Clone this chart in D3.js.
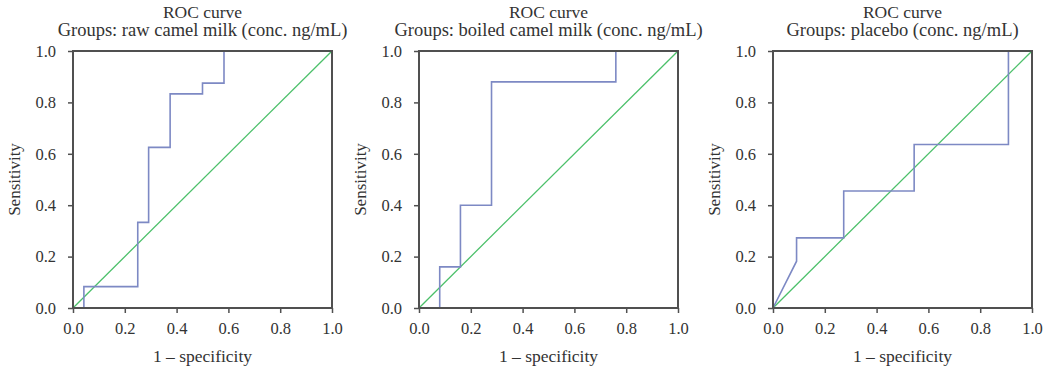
<!DOCTYPE html>
<html>
<head>
<meta charset="utf-8">
<script src="https://cdn.jsdelivr.net/npm/d3@7/dist/d3.min.js"></script>
<style>
  body { margin: 0; background: #fff; }
  text { font-family: "Liberation Serif", "Times New Roman", "DejaVu Serif", serif; fill: #333; }
</style>
</head>
<body>
<svg id="roc-chart" width="1050" height="374"></svg>
<script>
// tick labels shared by both axes
const ticks = [0, 0.2, 0.4, 0.6, 0.8, 1.0];

const groupNames = ["raw camel milk", "boiled camel milk", "placebo"];

// ROC points: 1 - specificity / sensitivity
const rawFpr = [0, 0.042, 0.042, 0.25, 0.25, 0.292, 0.292, 0.375, 0.375, 0.5, 0.5, 0.583, 0.583, 1];
const rawTpr = [0, 0, 0.083, 0.083, 0.333, 0.333, 0.625, 0.625, 0.833, 0.833, 0.875, 0.875, 1, 1];

const boiledFpr = [0, 0.08, 0.08, 0.16, 0.16, 0.28, 0.28, 0.76, 0.76, 1];
const boiledTpr = [0, 0, 0.16, 0.16, 0.4, 0.4, 0.88, 0.88, 1, 1];

const placeboFpr = [0, 0.091, 0.091, 0.273, 0.273, 0.545, 0.545, 0.909, 0.909, 1];
const placeboTpr = [0, 0.182, 0.273, 0.273, 0.455, 0.455, 0.636, 0.636, 1, 1];

const refFpr = [0, 1];
const refTpr = [0, 1];

const panels = [
  { name: groupNames[0], fpr: rawFpr, tpr: rawTpr, left: 73 },
  { name: groupNames[1], fpr: boiledFpr, tpr: boiledTpr, left: 419 },
  { name: groupNames[2], fpr: placeboFpr, tpr: placeboTpr, left: 773 }
];

const PLOT_W = 259;
const PLOT_H = 257;
const TOP = 51;
const blue = "#7d89c4";
const green = "#4cc06a";
const frame = "#505050";

const svg = d3.select("#roc-chart");

panels.forEach(p => {
  const g = svg.append("g")
    .attr("transform", "translate(" + p.left + "," + TOP + ")");

  const x = d3.scaleLinear().domain([0, 1]).range([0, PLOT_W]);
  const y = d3.scaleLinear().domain([0, 1]).range([PLOT_H, 0]);

  const xAxis = d3.axisBottom(x).tickValues(ticks).tickFormat(d3.format(".1f"))
    .tickSizeInner(5).tickSizeOuter(0).tickPadding(9);
  const yAxis = d3.axisLeft(y).tickValues(ticks).tickFormat(d3.format(".1f"))
    .tickSizeInner(5).tickSizeOuter(0).tickPadding(12);

  const gx = g.append("g")
    .attr("transform", "translate(0," + PLOT_H + ")")
    .call(xAxis);
  gx.select(".domain").remove();

  const gy = g.append("g").call(yAxis);
  gy.select(".domain").remove();

  g.selectAll(".tick line").attr("stroke", frame).attr("stroke-width", 1.5);
  g.selectAll(".tick text")
    .attr("font-size", 16.5)
    .attr("fill", "#3a3a3a");

  // diagonal reference line
  const line = d3.line().x(d => x(d[0])).y(d => y(d[1]));
  g.append("path")
    .datum(d3.zip(refFpr, refTpr))
    .attr("fill", "none")
    .attr("stroke", green)
    .attr("stroke-width", 1.3)
    .attr("d", line);

  // ROC curve
  g.append("path")
    .datum(d3.zip(p.fpr, p.tpr))
    .attr("fill", "none")
    .attr("stroke", blue)
    .attr("stroke-width", 1.6)
    .attr("d", line);

  // plot frame
  g.append("rect")
    .attr("width", PLOT_W)
    .attr("height", PLOT_H)
    .attr("fill", "none")
    .attr("stroke", frame)
    .attr("stroke-width", 2);

  // titles
  g.append("text")
    .attr("x", PLOT_W / 2)
    .attr("y", -33)
    .attr("text-anchor", "middle")
    .attr("font-size", 17.5)
    .text("ROC curve");
  g.append("text")
    .attr("x", PLOT_W / 2)
    .attr("y", -15)
    .attr("text-anchor", "middle")
    .attr("font-size", 18.5)
    .text("Groups: " + p.name + " (conc. ng/mL)");

  // axis labels
  g.append("text")
    .attr("x", PLOT_W / 2)
    .attr("y", PLOT_H + 54)
    .attr("text-anchor", "middle")
    .attr("font-size", 17.5)
    .text("1 \u2013 specificity");
  g.append("text")
    .attr("transform", "translate(-53," + (PLOT_H / 2) + ") rotate(-90)")
    .attr("text-anchor", "middle")
    .attr("font-size", 17)
    .text("Sensitivity");
});
</script>
</body>
</html>
